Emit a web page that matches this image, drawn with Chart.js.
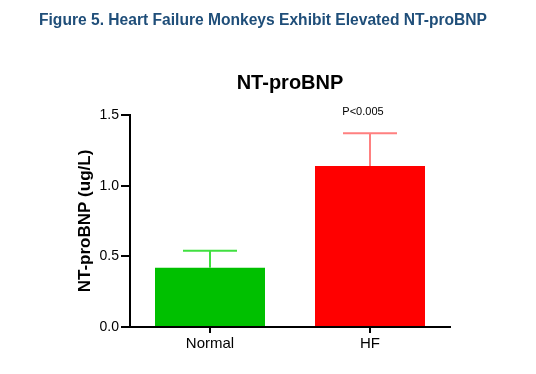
<!DOCTYPE html>
<html>
<head>
<meta charset="utf-8">
<script src="https://cdn.jsdelivr.net/npm/chart.js@4.4.1/dist/chart.umd.min.js"></script>
<style>
  html, body { margin: 0; padding: 0; background: #fff; }
  #wrap { width: 536px; height: 374px; }
</style>
</head>
<body>
<div id="wrap"><canvas id="npChart" width="536" height="374"></canvas></div>
<script>
const groups = ['Normal', 'HF'];
const means = [0.42, 1.14];
const errUp = [0.12, 0.23];
const barColors = ['#00c000', '#ff0000'];
const errColors = ['#40e040', '#ff8080'];
const yTicks = [0, 0.5, 1.0, 1.5];
const pLabel = 'P<0.005';

Chart.defaults.font.family = "'Liberation Sans', Arial, sans-serif";
Chart.defaults.color = '#000';

// error bars, titles and the p-value note
const extras = {
  id: 'extras',
  afterDatasetsDraw(chart) {
    const ctx = chart.ctx;
    const x = chart.scales.x, y = chart.scales.y;
    ctx.save();
    ctx.lineWidth = 2;
    groups.forEach((g, i) => {
      const cx = x.getPixelForValue(i);
      const y0 = y.getPixelForValue(means[i]);
      const y1 = y.getPixelForValue(means[i] + errUp[i]);
      ctx.strokeStyle = errColors[i];
      ctx.beginPath();
      ctx.moveTo(cx, y0);
      ctx.lineTo(cx, y1);
      ctx.moveTo(cx - 27, y1);
      ctx.lineTo(cx + 27, y1);
      ctx.stroke();
    });
    // p value over HF
    const hx = x.getPixelForValue(1);
    const ht = y.getPixelForValue(means[1] + errUp[1]);
    ctx.fillStyle = '#000';
    ctx.font = "11px 'Liberation Sans', Arial, sans-serif";
    ctx.textAlign = 'center';
    ctx.textBaseline = 'middle';
    ctx.fillText(pLabel, hx - 7, ht - 21);

    // titles
    ctx.font = "bold 15.6px 'Liberation Sans', Arial, sans-serif";
    ctx.fillStyle = '#1f4e79';
    ctx.fillText('Figure 5. Heart Failure Monkeys Exhibit Elevated NT-proBNP', 263, 21);
    ctx.font = "bold 20px 'Liberation Sans', Arial, sans-serif";
    ctx.fillStyle = '#000';
    ctx.fillText('NT-proBNP', (chart.chartArea.left + chart.chartArea.right) / 2, 83);
    ctx.restore();
  }
};

new Chart(document.getElementById('npChart'), {
  type: 'bar',
  data: {
    labels: groups,
    datasets: [{
      data: means,
      backgroundColor: barColors,
      borderWidth: 0,
      barPercentage: 0.6875,
      categoryPercentage: 1
    }]
  },
  options: {
    responsive: false,
    animation: false,
    devicePixelRatio: 1,
    layout: { padding: { top: 115, right: 86, bottom: 0, left: 0 } },
    plugins: {
      legend: { display: false },
      tooltip: { enabled: false }
    },
    scales: {
      x: {
        border: { color: '#000', width: 2 },
        grid: { offset: false, drawOnChartArea: false, drawTicks: true, tickLength: 6, color: '#000', lineWidth: 2 },
        ticks: { font: { size: 15 }, color: '#000', padding: 2 },
        afterFit(s) { s.height = 47; }
      },
      y: {
        min: 0,
        max: 1.5,
        afterBuildTicks(s) { s.ticks = yTicks.map(v => ({ value: v })); },
        border: { color: '#000', width: 2 },
        grid: { drawOnChartArea: false, drawTicks: true, tickLength: 9, color: '#000', lineWidth: 2 },
        ticks: { font: { size: 14 }, color: '#000', padding: 2, callback: v => Number(v).toFixed(1) },
        title: {
          display: true,
          text: 'NT-proBNP (ug/L)',
          font: { size: 17, weight: 'bold' },
          color: '#000',
          padding: { top: 75, bottom: 0 }
        },
        afterFit(s) { s.width = 130; }
      }
    }
  },
  plugins: [extras]
});
</script>
</body>
</html>
